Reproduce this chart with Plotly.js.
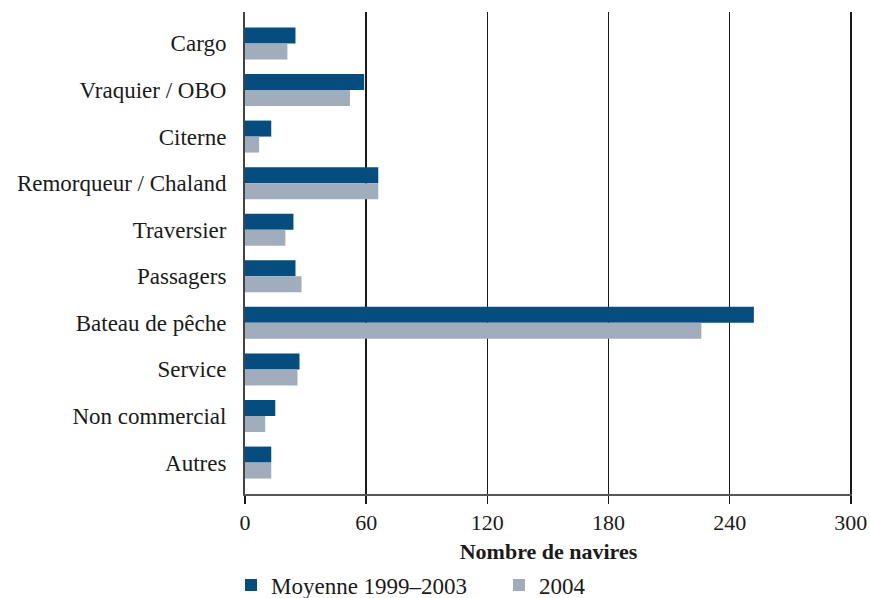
<!DOCTYPE html>
<html>
<head>
<meta charset="utf-8">
<script src="https://cdn.plot.ly/plotly-3.0.1.min.js"></script>
<style>html,body{margin:0;padding:0;background:#fff;}#chart{width:870px;height:598px;}</style>
</head>
<body>
<div id="chart"></div>
<script>
var categories = ["Cargo", "Vraquier / OBO", "Citerne", "Remorqueur / Chaland", "Traversier", "Passagers", "Bateau de pêche", "Service", "Non commercial", "Autres"];
var moyenne = [25, 59, 13, 66, 24, 25, 252, 27, 15, 13];
var an2004 = [21, 52, 7, 66, 20, 28, 226, 26, 10, 13];
var xTicks = [0, 60, 120, 180, 240, 300];
var seriesNames = ["Moyenne 1999–2003", "2004"];

var font = "'Liberation Serif', 'DejaVu Serif', serif";
var traces = [
  {type: "bar", orientation: "h", name: seriesNames[0], y: categories, x: moyenne,
   marker: {color: "#054d7f"}, hoverinfo: "x"},
  {type: "bar", orientation: "h", name: seriesNames[1], y: categories, x: an2004,
   marker: {color: "#a1adbd"}, hoverinfo: "x"}
];
var layout = {
  width: 870, height: 598,
  margin: {l: 245, r: 18, t: 12, b: 104},
  paper_bgcolor: "#fff", plot_bgcolor: "#fff",
  font: {family: font, size: 23, color: "#1a1a1a"},
  barmode: "group", bargap: 0.313, bargroupgap: 0,
  showlegend: true,
  legend: {orientation: "h", x: 0.2655, xanchor: "left", xref: "container",
           y: 0.0217, yanchor: "middle", yref: "container",
           entrywidth: 223, entrywidthmode: "pixels", traceorder: "normal",
           font: {family: font, size: 23, color: "#1a1a1a"}},
  xaxis: {
    range: [0, 300.6], tickvals: xTicks, ticktext: xTicks.map(String),
    showgrid: true, gridcolor: "#1a1a1a", gridwidth: 1.5,
    zeroline: false, showline: true, linecolor: "#555", linewidth: 2,
    ticks: "outside", ticklen: 8, tickwidth: 1.5, tickcolor: "#1a1a1a",
    tickfont: {family: font, size: 22, color: "#1a1a1a"},
    title: {text: "<b>Nombre de navires</b>", standoff: 24, font: {family: font, size: 22, color: "#1a1a1a"}},
    automargin: false,
    fixedrange: true
  },
  yaxis: {
    type: "category", categoryorder: "array", categoryarray: categories,
    range: [9.675, -0.675],
    showgrid: false, zeroline: false, showline: true, linecolor: "#444", linewidth: 2,
    ticks: "outside", ticklen: 12, tickcolor: "rgba(0,0,0,0)",
    tickfont: {family: font, size: 23, color: "#1a1a1a"},
    automargin: false,
    fixedrange: true
  }
};
Plotly.newPlot("chart", traces, layout, {displayModeBar: false, staticPlot: true});
</script>
</body>
</html>
